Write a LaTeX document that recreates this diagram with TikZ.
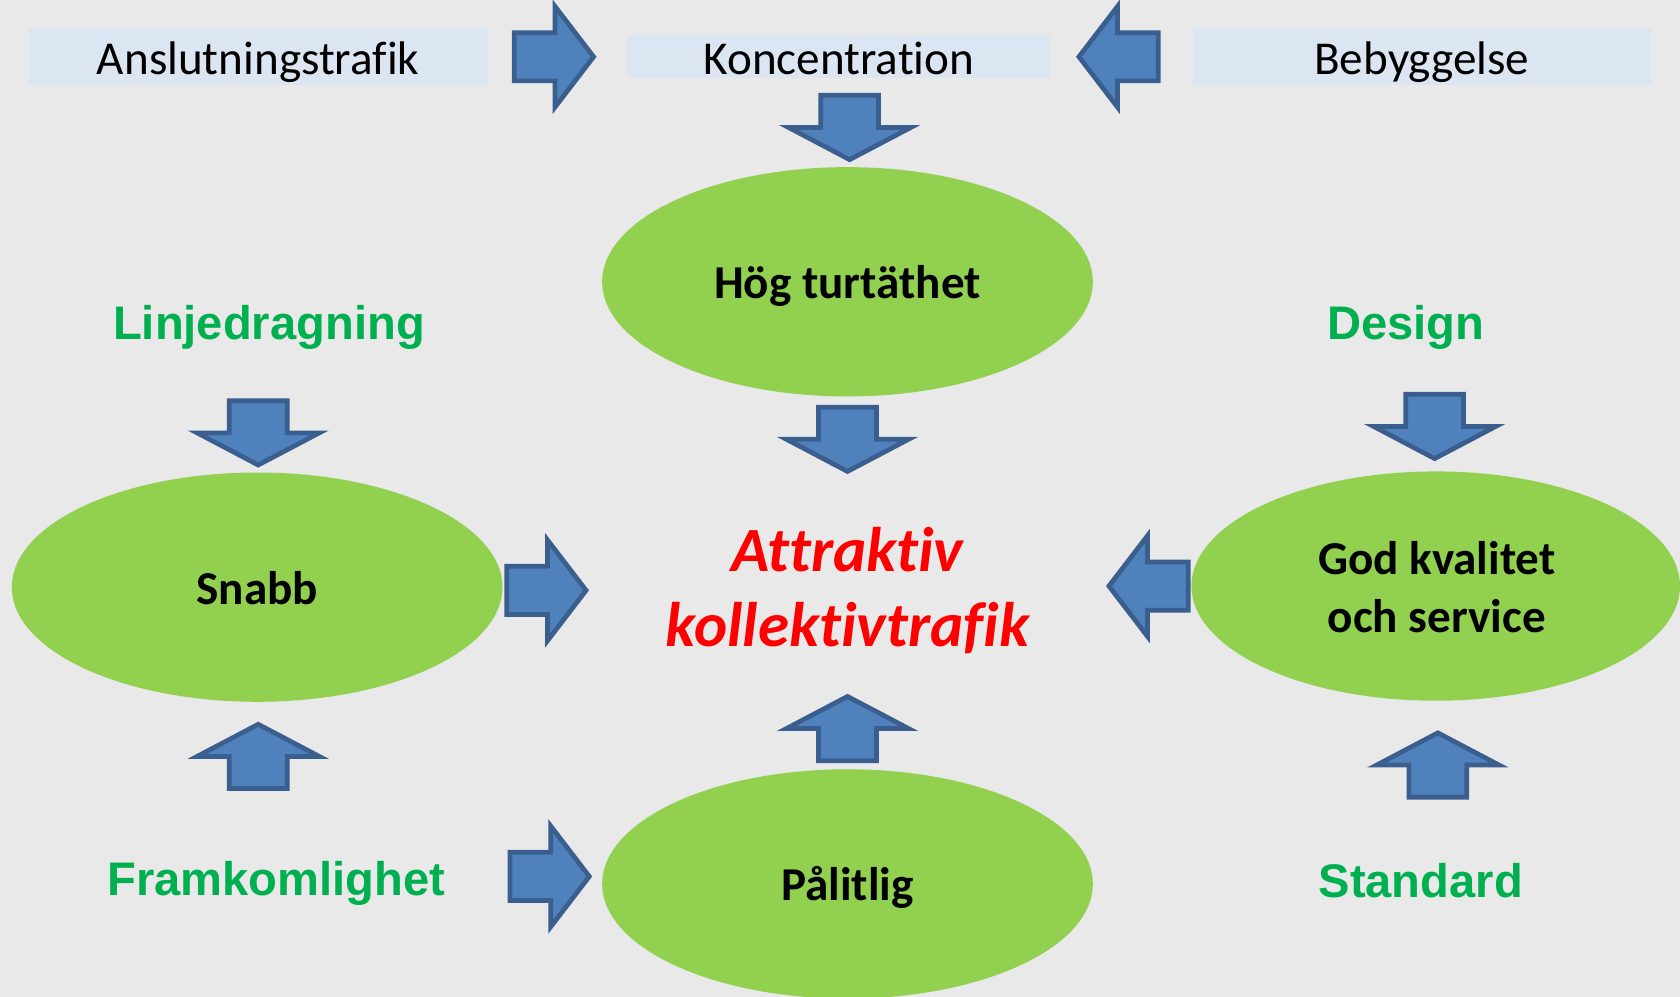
\documentclass[tikz,border=0pt]{standalone}
\usepackage{fontspec}
\setmainfont{Carlito}[Ligatures={NoCommon,NoContextual},Contextuals={NoAlternate},RawFeature={-liga;-calt;-clig}]
\newfontfamily\arialfont{Liberation Sans}
\usetikzlibrary{shapes.geometric}
\definecolor{bgc}{HTML}{E9E9E9}
\definecolor{boxc}{HTML}{DCE6F2}
\definecolor{arrf}{HTML}{4F81BD}
\definecolor{arrd}{HTML}{3A5F8E}
\definecolor{ellc}{HTML}{92D050}
\definecolor{grn}{HTML}{00B050}
\definecolor{redc}{HTML}{FF0000}
\newcommand\arrdown[2]{\draw[barr] (#1-27,#2+2) -- (#1+27,#2+2) -- (#1+27,#2+32) -- (#1+57,#2+32) -- (#1,#2+62) -- (#1-57,#2+32) -- (#1-27,#2+32) -- cycle;}
\newcommand\arrup[2]{\draw[barr] (#1-27,#2-2) -- (#1+27,#2-2) -- (#1+27,#2-32) -- (#1+57,#2-32) -- (#1,#2-62) -- (#1-57,#2-32) -- (#1-27,#2-32) -- cycle;}
\newcommand\arrright[2]{\draw[barr] (#1+2,#2-22.5) -- (#1+40,#2-22.5) -- (#1+40,#2-47) -- (#1+76,#2) -- (#1+40,#2+47) -- (#1+40,#2+22.5) -- (#1+2,#2+22.5) -- cycle;}
\newcommand\arrleft[2]{\draw[barr] (#1-2,#2-22.5) -- (#1-40,#2-22.5) -- (#1-40,#2-47) -- (#1-76,#2) -- (#1-40,#2+47) -- (#1-40,#2+22.5) -- (#1-2,#2+22.5) -- cycle;}
\tikzset{
  barr/.style={fill=arrf,draw=arrd,line width=2.2pt,line join=miter},
  topbox/.style={fill=boxc,draw=none,inner sep=0pt,minimum height=26pt},
  ell/.style={ellipse,fill=ellc,draw=none,inner sep=0pt,minimum width=229pt,minimum height=107pt},
  boxtxt/.style={anchor=base,inner sep=0pt,font=\fontsize{22pt}{26pt}\selectfont},
  elltxt/.style={anchor=base,inner sep=0pt,align=center,font=\fontsize{22pt}{27pt}\selectfont\bfseries},
  grtxt/.style={anchor=base,inner sep=0pt,text=grn,font=\fontsize{22pt}{26pt}\selectfont\arialfont\bfseries},
  redtxt/.style={anchor=base,inner sep=0pt,align=center,text=redc,font=\fontsize{29.4pt}{35pt}\selectfont\bfseries\itshape},
}
\begin{document}
\begin{tikzpicture}[x=0.5pt,y=-0.5pt]
\clip (0,0) rectangle (1568,930.5);
\fill[bgc] (0,0) rectangle (1568,930.5);
% top boxes
\node[topbox,minimum width=214pt] (bxa) at (241,53) {};
\node[topbox,minimum width=197.5pt,minimum height=20pt] (bxk) at (782.5,53) {};
\node[topbox,minimum width=214pt] (bxb) at (1327,53) {};
\node[boxtxt] (ta) at (241,70) {Anslutningstrafik};
\node[boxtxt] (tk) at (783,70) {Koncentration};
\node[boxtxt] (tb) at (1327,70) {Bebyggelse};
% ellipses
\node[ell] (hog) at (791,263) {};
\node[ell] (snabb) at (240,548) {};
\node[ell,minimum width=228pt] (god) at (1340,547) {};
\node[ell] (pal) at (791,825) {};
\node[elltxt] (thog) at (791,279) {Hög turtäthet};
\node[elltxt] (tsnabb) at (240,564) {Snabb};
\node[elltxt] (tgod) at (1341,590) {God kvalitet\\och service};
\node[elltxt] (tpal) at (791,840) {Pålitlig};
% green labels
\node[grtxt] (lin) at (251,317) {Linjedragning};
\node[grtxt] (des) at (1312,317) {Design};
\node[grtxt] (fram) at (258,836) {Framkomlighet};
\node[grtxt] (std) at (1326,838) {Standard};
% center
\node[redtxt] (attr) at (791,603) {Attraktiv\\kollektivtrafik};
% arrows
\arrright{478}{53}
\arrleft{1083}{53}
\arrdown{793}{87}
\arrdown{791}{378}
\arrdown{241}{372}
\arrdown{1339}{366}
\arrup{241}{738}
\arrup{791}{712}
\arrup{1342}{746}
\arrright{471}{551}
\arrright{474}{818}
\arrleft{1111}{547}
\end{tikzpicture}
\end{document}
